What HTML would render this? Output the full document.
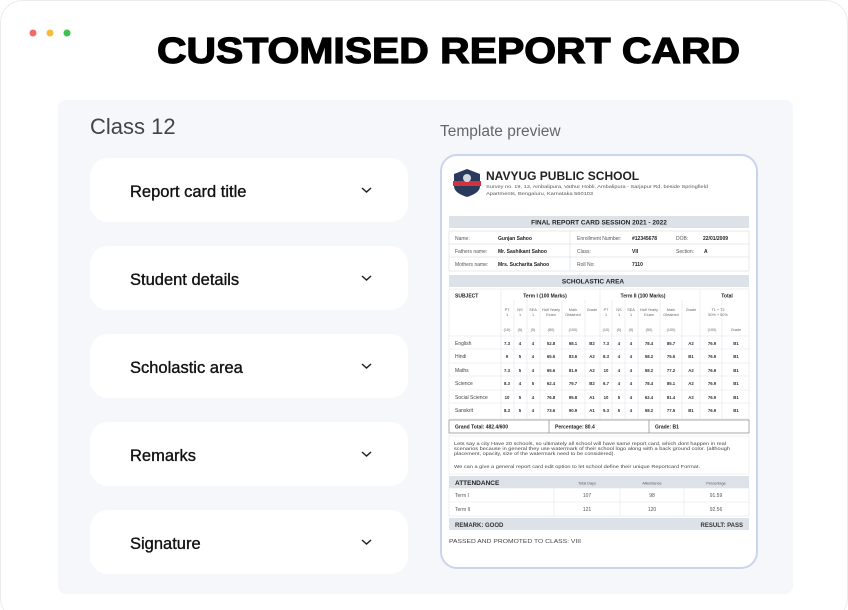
<!DOCTYPE html>
<html><head><meta charset="utf-8"><style>
html,body{margin:0;padding:0;background:#fff;width:848px;height:610px;overflow:hidden}
svg{display:block;font-family:"Liberation Sans",sans-serif}
</style></head><body>
<svg width="848" height="610" viewBox="0 0 848 610" xmlns="http://www.w3.org/2000/svg">
<rect x="0.5" y="0.5" width="847" height="620" rx="22" fill="#fff" stroke="#ececf0"/>
<circle cx="33" cy="33" r="3.5" fill="#f26a6a"/><circle cx="50" cy="33" r="3.5" fill="#f5bd3a"/><circle cx="67" cy="33" r="3.5" fill="#3cc24e"/>
<text x="157" y="63" font-size="36" font-weight="700" textLength="583" lengthAdjust="spacingAndGlyphs" fill="#000" stroke="#000" stroke-width="1.2">CUSTOMISED REPORT CARD</text>
<rect x="58" y="100" width="735" height="494" rx="8" fill="#f5f7fb"/>
<text x="90" y="134" font-size="22" fill="#444">Class 12</text>
<text x="440" y="136" font-size="15.5" fill="#666">Template preview</text>
<g font-size="16.5" fill="#111" stroke="#111" stroke-width="0.35">
<rect x="90" y="158" width="318" height="64" rx="18" fill="#fff" stroke="none"/><text x="130" y="197">Report card title</text>
<rect x="90" y="246" width="318" height="64" rx="18" fill="#fff" stroke="none"/><text x="130" y="285">Student details</text>
<rect x="90" y="334" width="318" height="64" rx="18" fill="#fff" stroke="none"/><text x="130" y="373">Scholastic area</text>
<rect x="90" y="422" width="318" height="64" rx="18" fill="#fff" stroke="none"/><text x="130" y="461">Remarks</text>
<rect x="90" y="510" width="318" height="64" rx="18" fill="#fff" stroke="none"/><text x="130" y="549">Signature</text>
</g>
<g fill="none" stroke="#222" stroke-width="1.5">
<path d="M362 188l4.5 4 4.5-4"/><path d="M362 276l4.5 4 4.5-4"/><path d="M362 364l4.5 4 4.5-4"/><path d="M362 452l4.5 4 4.5-4"/><path d="M362 540l4.5 4 4.5-4"/>
</g>
<!-- report card -->
<rect x="441" y="155" width="316" height="413" rx="16" fill="#fff" stroke="#c9d5ea" stroke-width="2"/>
<path d="M454 174l13-5 13 5v12c0 6-7 9-13 11c-6-2-13-5-13-11z" fill="#2a3a5c"/>
<rect x="453" y="181" width="28" height="5" fill="#d0343a"/>
<circle cx="467" cy="178" r="4" fill="#fff" opacity=".8"/>
<text x="486" y="180" font-size="12" font-weight="700" fill="#222">NAVYUG PUBLIC SCHOOL</text>
<text x="486" y="188" font-size="4.8" fill="#555" textLength="222" lengthAdjust="spacingAndGlyphs">Survey no. 19, 13, Ambalipura, Vathur Hobli, Ambalipura - Sarjapur Rd, beside Springfield</text>
<text x="486" y="195" font-size="4.8" fill="#555" textLength="107" lengthAdjust="spacingAndGlyphs">Apartments, Bengaluru, Karnataka 560103</text>
<rect x="449" y="216" width="300" height="12" fill="#dde2e8"/>
<text x="599" y="224.5" font-size="6.5" font-weight="700" text-anchor="middle" fill="#222">FINAL REPORT CARD SESSION 2021 - 2022</text>
<g fill="none" stroke="#dde1e6" stroke-width=".7"><rect x="449" y="231" width="300" height="40"/><line x1="570" y1="231" x2="570" y2="271"/><line x1="449" y1="244" x2="749" y2="244"/><line x1="449" y1="257" x2="749" y2="257"/></g>
<g font-size="5" fill="#555"><text x="455" y="240">Name:</text><text x="455" y="253">Fathers name:</text><text x="455" y="266">Mothers name:</text><text x="577" y="240">Enrollment Number:</text><text x="577" y="253">Class:</text><text x="577" y="266">Roll No:</text><text x="676" y="240">DOB:</text><text x="676" y="253">Section:</text></g>
<g font-size="5" font-weight="700" fill="#222"><text x="498" y="240">Gunjan Sahoo</text><text x="498" y="253">Mr. Sashikant Sahoo</text><text x="498" y="266">Mrs. Sucharita Sahoo</text><text x="632" y="240">#12345678</text><text x="632" y="253">VII</text><text x="632" y="266">7110</text><text x="703" y="240">22/01/2009</text><text x="704" y="253">A</text></g>
<rect x="449" y="275" width="300" height="12" fill="#dde2e8"/>
<text x="593" y="283.5" font-size="6.5" font-weight="700" text-anchor="middle" fill="#222">SCHOLASTIC AREA</text>
<g fill="none" stroke="#e2e5ea" stroke-width=".6">
<rect x="449" y="289" width="300" height="130"/>
<line x1="501" y1="289" x2="501" y2="419"/><line x1="600" y1="289" x2="600" y2="419"/><line x1="700" y1="289" x2="700" y2="419"/>
<line x1="449" y1="336" x2="749" y2="336"/><line x1="449" y1="349" x2="749" y2="349"/><line x1="449" y1="363" x2="749" y2="363"/><line x1="449" y1="376" x2="749" y2="376"/><line x1="449" y1="390" x2="749" y2="390"/><line x1="449" y1="403" x2="749" y2="403"/>
<line x1="514" y1="300" x2="514" y2="419"/><line x1="527" y1="300" x2="527" y2="419"/><line x1="540" y1="300" x2="540" y2="419"/><line x1="562" y1="300" x2="562" y2="419"/><line x1="585" y1="300" x2="585" y2="419"/>
<line x1="612" y1="300" x2="612" y2="419"/><line x1="625" y1="300" x2="625" y2="419"/><line x1="638" y1="300" x2="638" y2="419"/><line x1="660" y1="300" x2="660" y2="419"/><line x1="682" y1="300" x2="682" y2="419"/><line x1="722" y1="300" x2="722" y2="419"/>
</g>
<g font-size="5" font-weight="700" fill="#222"><text x="455" y="297.5">SUBJECT</text><text x="545" y="297.5" text-anchor="middle">Term I (100 Marks)</text><text x="643" y="297.5" text-anchor="middle">Term II (100 Marks)</text><text x="727" y="297.5" text-anchor="middle">Total</text></g>
<g font-size="3.8" fill="#666" text-anchor="middle">
<text x="507" y="311">PT</text><text x="507" y="316">1</text><text x="520" y="311">NS</text><text x="520" y="316">1</text><text x="533" y="311">SEA</text><text x="533" y="316">1</text><text x="551" y="311">Half Yearly</text><text x="551" y="316">Exam</text><text x="573" y="311">Mark</text><text x="573" y="316">Obtained</text><text x="592" y="311">Grade</text>
<text x="606" y="311">PT</text><text x="606" y="316">1</text><text x="619" y="311">NS</text><text x="619" y="316">1</text><text x="631" y="311">SEA</text><text x="631" y="316">1</text><text x="649" y="311">Half Yearly</text><text x="649" y="316">Exam</text><text x="671" y="311">Mark</text><text x="671" y="316">Obtained</text><text x="691" y="311">Grade</text>
<text x="718" y="311">T1 + T2</text><text x="718" y="316">50% + 50%</text>
<text x="507" y="331">(10)</text><text x="520" y="331">(5)</text><text x="533" y="331">(5)</text><text x="551" y="331">(80)</text><text x="573" y="331">(100)</text><text x="606" y="331">(10)</text><text x="619" y="331">(5)</text><text x="631" y="331">(5)</text><text x="649" y="331">(50)</text><text x="671" y="331">(100)</text><text x="712" y="331">(100)</text><text x="736" y="331">Grade</text>
</g>
<g font-size="5" fill="#444"><text x="455" y="345">English</text><text x="455" y="358">Hindi</text><text x="455" y="372">Maths</text><text x="455" y="385">Science</text><text x="455" y="399">Social Science</text><text x="455" y="412">Sanskrit</text></g>
<g font-size="4.3" font-weight="700" fill="#333" text-anchor="middle">
<g transform="translate(0,345)"><text x="507">7.3</text><text x="520">4</text><text x="533">4</text><text x="551">52.8</text><text x="573">68.1</text><text x="592">B2</text><text x="606">7.3</text><text x="619">4</text><text x="631">4</text><text x="649">78.4</text><text x="671">85.7</text><text x="691">A2</text><text x="712">76.9</text><text x="736">B1</text></g>
<g transform="translate(0,358)"><text x="507">9</text><text x="520">5</text><text x="533">4</text><text x="551">65.6</text><text x="573">83.6</text><text x="592">A2</text><text x="606">8.3</text><text x="619">4</text><text x="631">4</text><text x="649">58.2</text><text x="671">75.6</text><text x="691">B1</text><text x="712">76.9</text><text x="736">B1</text></g>
<g transform="translate(0,372)"><text x="507">7.3</text><text x="520">5</text><text x="533">4</text><text x="551">65.6</text><text x="573">81.9</text><text x="592">A2</text><text x="606">10</text><text x="619">4</text><text x="631">4</text><text x="649">58.2</text><text x="671">77.2</text><text x="691">A2</text><text x="712">76.9</text><text x="736">B1</text></g>
<g transform="translate(0,385)"><text x="507">8.3</text><text x="520">4</text><text x="533">5</text><text x="551">62.4</text><text x="573">79.7</text><text x="592">B2</text><text x="606">6.7</text><text x="619">4</text><text x="631">4</text><text x="649">78.4</text><text x="671">85.1</text><text x="691">A2</text><text x="712">76.9</text><text x="736">B1</text></g>
<g transform="translate(0,399)"><text x="507">10</text><text x="520">5</text><text x="533">4</text><text x="551">76.8</text><text x="573">95.8</text><text x="592">A1</text><text x="606">10</text><text x="619">5</text><text x="631">4</text><text x="649">62.4</text><text x="671">81.4</text><text x="691">A2</text><text x="712">76.9</text><text x="736">B1</text></g>
<g transform="translate(0,412)"><text x="507">8.3</text><text x="520">5</text><text x="533">4</text><text x="551">73.6</text><text x="573">90.9</text><text x="592">A1</text><text x="606">9.3</text><text x="619">5</text><text x="631">4</text><text x="649">58.2</text><text x="671">77.5</text><text x="691">B1</text><text x="712">76.9</text><text x="736">B1</text></g>
</g>
<g fill="none" stroke="#888" stroke-width=".7"><rect x="449" y="420" width="300" height="13"/><line x1="549" y1="420" x2="549" y2="433"/><line x1="649" y1="420" x2="649" y2="433"/></g>
<g font-size="5" font-weight="700" fill="#222"><text x="455" y="428.5">Grand Total: 482.4/600</text><text x="555" y="428.5">Percentage: 80.4</text><text x="655" y="428.5">Grade: B1</text></g>
<rect x="449" y="436" width="300" height="38" fill="none" stroke="#e6e9ee" stroke-width=".6"/>
<g font-size="4.6" fill="#444"><text x="454" y="445" textLength="272" lengthAdjust="spacingAndGlyphs">Lets say a city Have 20 schools, so ultimately all school will have same report card, which dont happen in real</text><text x="454" y="450" textLength="276" lengthAdjust="spacingAndGlyphs">scenarios because in general they use watermark of their school logo along with a back ground color. (although</text><text x="454" y="455" textLength="161" lengthAdjust="spacingAndGlyphs">placement, opacity, size of the watermark need to be considered).</text><text x="454" y="468" textLength="246" lengthAdjust="spacingAndGlyphs">We can a give a general report card edit option to let school define their unique Reportcard Format.</text></g>
<rect x="449" y="476" width="300" height="12" fill="#dde2e8"/>
<text x="455" y="485" font-size="6.5" font-weight="700" fill="#222">ATTENDANCE</text>
<g font-size="3.8" fill="#555" text-anchor="middle"><text x="587" y="484.5">Total Days</text><text x="652" y="484.5">Attendance</text><text x="716" y="484.5">Percentage</text></g>
<g fill="none" stroke="#e2e5ea" stroke-width=".6"><rect x="449" y="488" width="300" height="28"/><line x1="449" y1="502" x2="749" y2="502"/><line x1="554" y1="488" x2="554" y2="516"/><line x1="620" y1="488" x2="620" y2="516"/><line x1="684" y1="488" x2="684" y2="516"/></g>
<g font-size="5" fill="#555"><text x="455" y="497">Term I</text><text x="455" y="511">Term II</text></g>
<g font-size="5" fill="#555" text-anchor="middle"><text x="587" y="497">107</text><text x="652" y="497">98</text><text x="716" y="497">91.59</text><text x="587" y="511">121</text><text x="652" y="511">120</text><text x="716" y="511">92.56</text></g>
<rect x="449" y="518" width="300" height="12" fill="#dde2e8"/>
<text x="455" y="527" font-size="6" font-weight="700" fill="#333">REMARK: GOOD</text>
<text x="743" y="527" font-size="6" font-weight="700" fill="#333" text-anchor="end">RESULT: PASS</text>
<text x="449" y="543" font-size="5.5" fill="#444" textLength="132" lengthAdjust="spacingAndGlyphs">PASSED AND PROMOTED TO CLASS: VIII</text>
</svg>
</body></html>
